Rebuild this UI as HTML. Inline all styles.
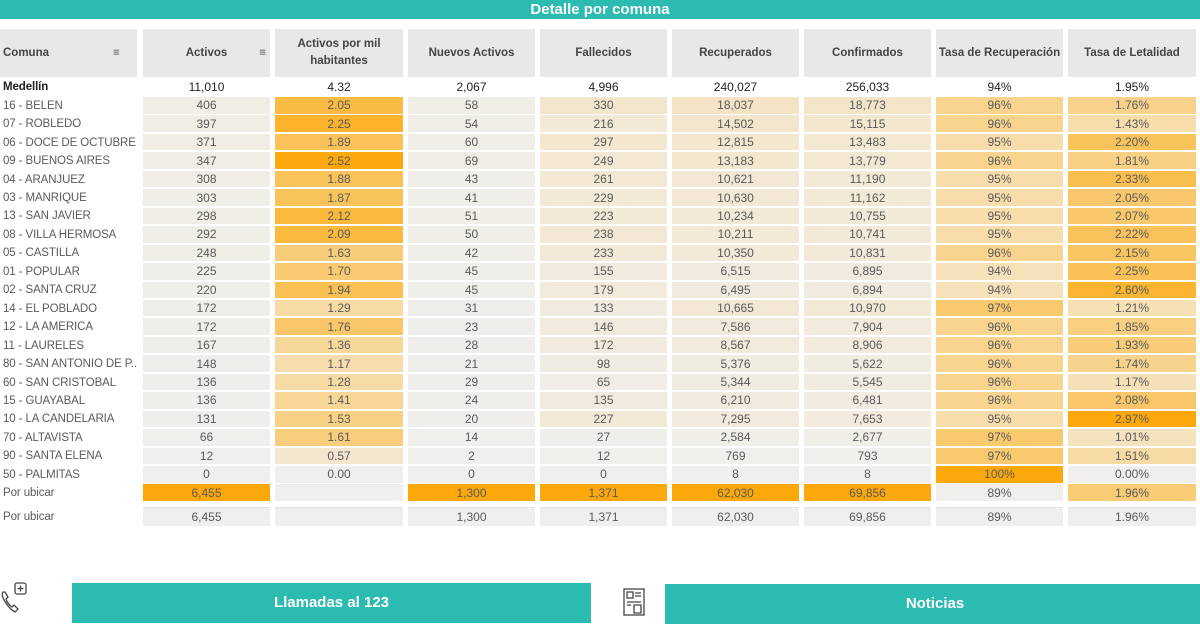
<!DOCTYPE html>
<html><head><meta charset="utf-8"><style>
body{margin:0;width:1200px;height:616px;overflow:hidden;background:#fff;font-family:"Liberation Sans",sans-serif;position:relative}
.a{position:absolute;box-sizing:border-box}
.bar{background:#2bbbb0;color:#fff;font-weight:bold;text-align:center}
.h{background:#e8e8e8;color:#444;font-size:11.5px;font-weight:bold;display:flex;align-items:center;justify-content:center;text-align:center;line-height:17px}
.c{font-size:12px;color:#5a5a5a;text-align:center;display:flex;align-items:center;justify-content:center}
.n{font-size:11.5px;color:#5a5a5a;display:flex;align-items:center;padding-left:3px;white-space:nowrap;letter-spacing:-0.1px}
</style></head><body>
<div class="a bar" style="left:0;top:0;width:1200px;height:19px;font-size:15px;line-height:19px">Detalle por comuna</div>
<div class="a bar" style="left:72px;top:583px;width:519px;height:40px;font-size:15px;line-height:40px">Llamadas al 123</div>
<div class="a bar" style="left:665px;top:584px;width:540px;height:40px;font-size:15px;line-height:40px">Noticias</div>
<svg class="a" style="left:0;top:580px" width="32" height="36" viewBox="0 0 32 36" fill="none" stroke="#444" stroke-width="1.3"><rect x="15" y="3" width="11" height="11" rx="2"/><path d="M20.5 5.5v6M17.5 8.5h6"/><path d="M3 12c-3 4 5 16 12 20l3-3-4-4-2 2c-3-2-5-5-6-8l2-2-3-5z"/></svg>
<svg class="a" style="left:622px;top:587px" width="24" height="29" viewBox="0 0 24 29" fill="none" stroke="#444" stroke-width="1.3"><rect x="2" y="2" width="20" height="26"/><rect x="5" y="5" width="6" height="6"/><path d="M13 6h6M13 9h6M5 15h14M5 18h4M12 18h7v8h-7z"/></svg>
<div id="t"></div>
<script>
var cols=[[143,127],[275,128],[408,127],[540,127],[672,127],[804,127],[936,127],[1068,128]];
var heads=["Activos","Activos por mil<br>habitantes","Nuevos Activos","Fallecidos","Recuperados","Confirmados","Tasa de Recuperación","Tasa de Letalidad"];
var rows=[
["16 - BELEN","406","2.05","58","330","18,037","18,773","96%","1.76%"],
["07 - ROBLEDO","397","2.25","54","216","14,502","15,115","96%","1.43%"],
["06 - DOCE DE OCTUBRE","371","1.89","60","297","12,815","13,483","95%","2.20%"],
["09 - BUENOS AIRES","347","2.52","69","249","13,183","13,779","96%","1.81%"],
["04 - ARANJUEZ","308","1.88","43","261","10,621","11,190","95%","2.33%"],
["03 - MANRIQUE","303","1.87","41","229","10,630","11,162","95%","2.05%"],
["13 - SAN JAVIER","298","2.12","51","223","10,234","10,755","95%","2.07%"],
["08 - VILLA HERMOSA","292","2.09","50","238","10,211","10,741","95%","2.22%"],
["05 - CASTILLA","248","1.63","42","233","10,350","10,831","96%","2.15%"],
["01 - POPULAR","225","1.70","45","155","6,515","6,895","94%","2.25%"],
["02 - SANTA CRUZ","220","1.94","45","179","6,495","6,894","94%","2.60%"],
["14 - EL POBLADO","172","1.29","31","133","10,665","10,970","97%","1.21%"],
["12 - LA AMERICA","172","1.76","23","146","7,586","7,904","96%","1.85%"],
["11 - LAURELES","167","1.36","28","172","8,567","8,906","96%","1.93%"],
["80 - SAN ANTONIO DE P..","148","1.17","21","98","5,376","5,622","96%","1.74%"],
["60 - SAN CRISTOBAL","136","1.28","29","65","5,344","5,545","96%","1.17%"],
["15 - GUAYABAL","136","1.41","24","135","6,210","6,481","96%","2.08%"],
["10 - LA CANDELARIA","131","1.53","20","227","7,295","7,653","95%","2.97%"],
["70 - ALTAVISTA","66","1.61","14","27","2,584","2,677","97%","1.01%"],
["90 - SANTA ELENA","12","0.57","2","12","769","793","97%","1.51%"],
["50 - PALMITAS","0","0.00","0","0","8","8","100%","0.00%"],
["Por ubicar","6,455","","1,300","1,371","62,030","69,856","89%","1.96%"]];
var lo=[0,0,0,0,0,0,90.5,0],hi=[6455,2.52,1300,1371,62030,69856,100,2.97];
function mix(a,b,t){return a.map((v,i)=>Math.round(v+(b[i]-v)*t));}
function col(t){var A=[240,239,237],B=[247,220,168],C=[252,168,10];var c=t<0.5?mix(A,B,t*2):mix(B,C,(t-0.5)*2);return "rgb("+c+")";}
var h="";
h+='<div class="a h" style="left:0;top:29px;width:137px;height:48px;justify-content:flex-start;padding-left:3px">Comuna<span style="position:absolute;left:113px;font-weight:normal">&#8801;</span></div>';
cols.forEach((c,i)=>{h+='<div class="a h" style="left:'+c[0]+'px;top:29px;width:'+c[1]+'px;height:48px">'+heads[i]+(i==0?'<span style="position:absolute;right:4px;font-weight:normal">&#8801;</span>':'')+'</div>';});
var tot=["11,010","4.32","2,067","4,996","240,027","256,033","94%","1.95%"];
h+='<div class="a n" style="left:0;top:78px;height:18px;font-weight:bold;color:#222">Medellín</div>';
cols.forEach((c,i)=>{h+='<div class="a c" style="left:'+c[0]+'px;top:78px;width:'+c[1]+'px;height:18px;color:#222">'+tot[i]+'</div>';});
rows.forEach((r,k)=>{var y=97+k*18.45;
h+='<div class="a n" style="left:0;top:'+y+'px;height:17.5px">'+r[0]+'</div>';
cols.forEach((c,i)=>{var s=r[i+1],bg;
if(s===""){bg="#efefef";}else{var v=parseFloat(s.replace(/,/g,''));var t=(v-lo[i])/(hi[i]-lo[i]);bg=col(Math.max(0,Math.min(1,t)));}
h+='<div class="a c" style="left:'+c[0]+'px;top:'+y+'px;width:'+c[1]+'px;height:17.5px;background:'+bg+';border-bottom:1px solid #fff">'+s+'</div>';});});
var r=rows[21];
h+='<div class="a n" style="left:0;top:507px;height:19px">Por ubicar</div>';
cols.forEach((c,i)=>{h+='<div class="a c" style="left:'+c[0]+'px;top:507px;width:'+c[1]+'px;height:19px;background:#efefef;border-top:1px solid #e2e2e2">'+r[i+1]+'</div>';});
document.getElementById('t').innerHTML=h;
</script>
</body></html>
